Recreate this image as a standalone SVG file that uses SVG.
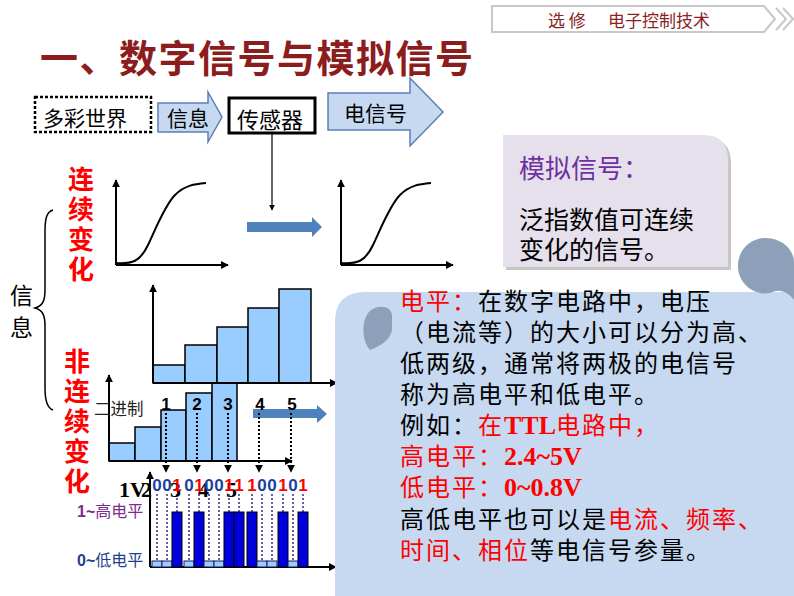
<svg xmlns="http://www.w3.org/2000/svg" width="794" height="596" viewBox="0 0 794 596">
<defs>
<style>
.cjk{font-family:"Noto Sans CJK SC","Noto Sans",sans-serif}
.ser{font-family:"Liberation Serif","Noto Sans CJK SC",serif}
.sans{font-family:"Liberation Sans","Noto Sans CJK SC",sans-serif}
.red{fill:#FF0000}
.blk{fill:#000}
.ax{stroke:#000;stroke-width:2;fill:none}
.bar{fill:#99CCFF;stroke:#000;stroke-width:1.5}
.hi{fill:#0000DD;stroke:#000;stroke-width:1}
.lo{fill:#99CCFF;stroke:#1a1a66;stroke-width:1}
.dot{stroke:#000;stroke-width:2;stroke-dasharray:2 2;fill:none}
.bdot{stroke:#3a2a8a;stroke-width:1.5;stroke-dasharray:2 2;fill:none}
.pt{font-size:24px;letter-spacing:2px}
.big{fill:#4F81BD}
.harrow{fill:#C6D9F1;stroke:#5B7FB5;stroke-width:1.5}
</style>
<marker id="ah" viewBox="0 0 10 10" refX="9" refY="5" markerWidth="5" markerHeight="5" orient="auto" markerUnits="strokeWidth">
<path d="M0,0 L10,5 L0,10 Z" fill="#000"/>
</marker>
<marker id="ah2" viewBox="0 0 10 10" refX="9" refY="5" markerWidth="4" markerHeight="4" orient="auto" markerUnits="strokeWidth">
<path d="M0,0 L10,5 L0,10 Z" fill="#000"/>
</marker>
</defs>
<rect width="794" height="596" fill="#fff"/>

<g id="header">
<polygon points="492,6 764,6 775,19 764,32 492,32" fill="#fff" stroke="#C8C8C8" stroke-width="2"/>
<polyline points="776,8 786,19 776,30" fill="none" stroke="#C8C8C8" stroke-width="2"/>
<polyline points="783,8 793,19 783,30" fill="none" stroke="#C8C8C8" stroke-width="2"/>
<text x="548" y="27" class="cjk" font-size="17" fill="#8B2323">选 修</text>
<text x="608" y="27" class="cjk" font-size="17" fill="#8B2323">电子控制技术</text>
</g>

<g id="title">
<text x="40" y="72" class="cjk" font-size="38" font-weight="bold" letter-spacing="1.5" fill="#8C1D1D">一、数字信号与模拟信号</text>
</g>

<g id="n-world">
<rect x="35" y="97" width="116" height="35" fill="#fff" stroke="#000" stroke-width="2.5" stroke-dasharray="3 2"/>
<text x="43" y="126" class="cjk" font-size="21">多彩世界</text>
</g>
<g id="n-info-arrow">
<polygon class="harrow" points="158,103 208,103 208,92 222,117 208,142 208,132 158,132"/>
<text x="167" y="126" class="cjk" font-size="21">信息</text>
</g>
<g id="n-sensor">
<rect x="229" y="98" width="86" height="35" fill="#fff" stroke="#000" stroke-width="3"/>
<text x="237" y="128" class="cjk" font-size="22">传感器</text>
</g>
<g id="n-signal-arrow">
<polygon class="harrow" points="328,93 410,93 410,78 443,112 410,146 410,130 328,130"/>
<text x="344" y="121" class="cjk" font-size="21">电信号</text>
</g>

<g id="connectors">
<line x1="272" y1="133" x2="272" y2="210" stroke="#000" stroke-width="1.2" marker-end="url(#ah)"/>
<polygon class="big" points="247,222 312,222 312,217 322,227 312,237 312,232 247,232"/>
<polygon class="big" points="253,409 317,409 317,405 327,414 317,423 317,418 253,418"/>
</g>

<g id="n-left-labels">
<text x="68" y="189" class="cjk red" font-size="26" font-weight="bold">连</text>
<text x="68" y="219" class="cjk red" font-size="26" font-weight="bold">续</text>
<text x="68" y="249" class="cjk red" font-size="26" font-weight="bold">变</text>
<text x="68" y="279" class="cjk red" font-size="26" font-weight="bold">化</text>
<text x="64" y="371" class="cjk red" font-size="26" font-weight="bold">非</text>
<text x="64" y="401" class="cjk red" font-size="26" font-weight="bold">连</text>
<text x="64" y="431" class="cjk red" font-size="26" font-weight="bold">续</text>
<text x="64" y="461" class="cjk red" font-size="26" font-weight="bold">变</text>
<text x="64" y="491" class="cjk red" font-size="26" font-weight="bold">化</text>
<text x="10" y="304" class="cjk" font-size="23">信</text>
<text x="10" y="336" class="cjk" font-size="23">息</text>
<path d="M53,210 C46,212 45,220 45,232 L45,290 C45,302 42,306 35,308 C42,310 45,314 45,326 L45,388 C45,400 47,408 53,410" fill="none" stroke="#000" stroke-width="1.5"/>
</g>

<g id="n-analog-graph1">
<line class="ax" x1="116" y1="265" x2="116" y2="180" marker-end="url(#ah2)"/>
<line class="ax" x1="116" y1="265" x2="228" y2="265" marker-end="url(#ah2)"/>
<path d="M116,263 C132,264 140,262 148,245 S165,205 175,195 S195,184 206,183" fill="none" stroke="#000" stroke-width="2"/>
</g>
<g id="n-analog-graph2">
<line class="ax" x1="341" y1="265" x2="341" y2="180" marker-end="url(#ah2)"/>
<line class="ax" x1="341" y1="265" x2="453" y2="265" marker-end="url(#ah2)"/>
<path d="M341,263 C357,264 365,262 373,245 S390,205 400,195 S420,184 431,183" fill="none" stroke="#000" stroke-width="2"/>
</g>

<g id="n-stair-lower">
<rect class="bar" x="109" y="443" width="26" height="18"/>
<rect class="bar" x="135" y="427" width="26" height="34"/>
<rect class="bar" x="161" y="410" width="25" height="51"/>
<rect class="bar" x="186" y="393" width="26" height="68"/>
<rect class="bar" x="212" y="383" width="25" height="78"/>
<line class="ax" x1="109" y1="461" x2="109" y2="375" marker-end="url(#ah2)"/>
<line class="ax" x1="109" y1="461" x2="292" y2="461" marker-end="url(#ah2)"/>
<text x="94" y="415" class="cjk" font-size="16.5" fill="#222">二进制</text>
</g>

<g id="n-stair-upper">
<rect class="bar" x="153" y="365" width="32" height="18"/>
<rect class="bar" x="185" y="345" width="32" height="38"/>
<rect class="bar" x="217" y="327" width="31" height="56"/>
<rect class="bar" x="248" y="308" width="31" height="75"/>
<rect class="bar" x="279" y="289" width="32" height="94"/>
<line class="ax" x1="153" y1="383" x2="153" y2="285" marker-end="url(#ah2)"/>
<line class="ax" x1="153" y1="383" x2="337" y2="383" marker-end="url(#ah2)"/>
</g>

<g id="n-numbers">
<g class="sans" font-size="17" font-weight="bold" text-anchor="middle">
<text x="166" y="410">1</text>
<text x="197" y="410">2</text>
<text x="228" y="410">3</text>
<text x="260" y="410">4</text>
<text x="292" y="410">5</text>
</g>
<line class="dot" x1="166" y1="413" x2="166" y2="472" marker-end="url(#ah2)"/>
<line class="dot" x1="197" y1="413" x2="197" y2="472" marker-end="url(#ah2)"/>
<line class="dot" x1="228" y1="413" x2="228" y2="472" marker-end="url(#ah2)"/>
<line class="dot" x1="259" y1="413" x2="259" y2="472" marker-end="url(#ah2)"/>
<line class="dot" x1="291" y1="413" x2="291" y2="472" marker-end="url(#ah2)"/>
</g>

<g id="n-digital-graph">
<line class="ax" x1="150" y1="567" x2="150" y2="472" marker-end="url(#ah2)"/>
<line class="ax" x1="150" y1="567" x2="336" y2="567" marker-end="url(#ah2)"/>
<g class="bdot">
<line x1="157" y1="494" x2="157" y2="560"/><line x1="167" y1="494" x2="167" y2="560"/><line x1="177" y1="494" x2="177" y2="512"/>
<line x1="189" y1="494" x2="189" y2="560"/><line x1="199" y1="494" x2="199" y2="512"/><line x1="209" y1="494" x2="209" y2="560"/>
<line x1="219" y1="494" x2="219" y2="560"/><line x1="229" y1="494" x2="229" y2="512"/><line x1="239" y1="494" x2="239" y2="512"/>
<line x1="252" y1="494" x2="252" y2="512"/><line x1="262" y1="494" x2="262" y2="560"/><line x1="272" y1="494" x2="272" y2="560"/>
<line x1="283" y1="494" x2="283" y2="512"/><line x1="293" y1="494" x2="293" y2="560"/><line x1="303" y1="494" x2="303" y2="512"/>
</g>
<rect class="lo" x="152" y="561" width="10" height="6"/>
<rect class="lo" x="162" y="561" width="10" height="6"/>
<rect class="hi" x="172" y="512" width="10" height="55"/>
<rect class="lo" x="184" y="561" width="10" height="6"/>
<rect class="hi" x="194" y="512" width="10" height="55"/>
<rect class="lo" x="204" y="561" width="10" height="6"/>
<rect class="lo" x="214" y="561" width="10" height="6"/>
<rect class="hi" x="224" y="512" width="10" height="55"/>
<rect class="hi" x="234" y="512" width="10" height="55"/>
<rect class="hi" x="247" y="512" width="10" height="55"/>
<rect class="lo" x="257" y="561" width="10" height="6"/>
<rect class="lo" x="267" y="561" width="10" height="6"/>
<rect class="hi" x="278" y="512" width="10" height="55"/>
<rect class="lo" x="288" y="561" width="10" height="6"/>
<rect class="hi" x="298" y="512" width="10" height="55"/>
<g class="ser" font-size="22" font-weight="bold">
<text x="119" y="497">1V</text>
<text x="141" y="497">2</text>
<text x="170" y="497">3</text>
<text x="198" y="497">4</text>
<text x="226" y="497">5</text>
</g>
<g class="sans" font-size="17" font-weight="bold" text-anchor="middle">
<text x="157" y="491" fill="#2040A0">0</text><text x="167" y="491" fill="#2040A0">0</text><text x="177" y="491" fill="#FF0000">1</text>
<text x="189" y="491" fill="#2040A0">0</text><text x="199" y="491" fill="#FF0000">1</text><text x="209" y="491" fill="#2040A0">0</text>
<text x="219" y="491" fill="#2040A0">0</text><text x="229" y="491" fill="#FF0000">1</text><text x="239" y="491" fill="#FF0000">1</text>
<text x="252" y="491" fill="#FF0000">1</text><text x="262" y="491" fill="#2040A0">0</text><text x="272" y="491" fill="#2040A0">0</text>
<text x="283" y="491" fill="#FF0000">1</text><text x="293" y="491" fill="#2040A0">0</text><text x="303" y="491" fill="#FF0000">1</text>
</g>
<text x="77" y="517" font-size="16" fill="#7B2C8C"><tspan class="sans" font-weight="bold">1~</tspan><tspan class="cjk">高电平</tspan></text>
<text x="77" y="566" font-size="16" fill="#1F3F8F"><tspan class="sans" font-weight="bold">0~</tspan><tspan class="cjk">低电平</tspan></text>
</g>

<g id="n-analog-def">
<path d="M506,138 L706,138 Q731,138 731,163 L731,270 L506,270 Z" fill="#A0A0A0" opacity="0.6"/>
<path d="M503,135 L703,135 Q728,135 728,160 L728,267 L503,267 Z" fill="#E5E0EC"/>
<text x="519" y="178" class="cjk" font-size="26" fill="#7030A0">模拟信号：</text>
<text x="519" y="229" class="cjk" font-size="25">泛指数值可连续</text>
<text x="519" y="259" class="cjk" font-size="25">变化的信号。</text>
</g>

<g id="n-level-panel">
<path d="M335,322 Q335,292 365,292 L794,292 L794,596 L335,596 Z" fill="#C6D9F0"/>
<path d="M370,350 C361,340 361,318 371,310 C379,304 392,306 392,316 L392,330 C390,340 381,346 370,350 Z" fill="#8DA0BA"/>
<path d="M766,238 C782,238 794,250 794,262 L794,300 C788,292 780,288 770,293 C752,296 738,282 738,266 C738,250 750,238 766,238 Z" fill="#8DA0BA"/>
<g class="cjk pt">
<text x="400" y="310"><tspan class="red">电平：</tspan>在数字电路中，电压</text>
<text x="400" y="341">（电流等）的大小可以分为高、</text>
<text x="400" y="372">低两级，通常将两极的电信号</text>
<text x="400" y="403">称为高电平和低电平。</text>
<text x="400" y="434">例如：<tspan class="red">在</tspan><tspan class="red ser" font-weight="bold" font-size="26" letter-spacing="0">TTL</tspan><tspan class="red">电路中，</tspan></text>
<text x="400" y="465"><tspan class="red">高电平：</tspan><tspan class="red ser" font-weight="bold" font-size="26" letter-spacing="0">2.4~5V</tspan></text>
<text x="400" y="496"><tspan class="red">低电平：</tspan><tspan class="red ser" font-weight="bold" font-size="26" letter-spacing="0">0~0.8V</tspan></text>
<text x="400" y="528">高低电平也可以是<tspan class="red">电流、频率、</tspan></text>
<text x="400" y="559"><tspan class="red">时间、相位</tspan>等电信号参量。</text>
</g>
</g>
</svg>
